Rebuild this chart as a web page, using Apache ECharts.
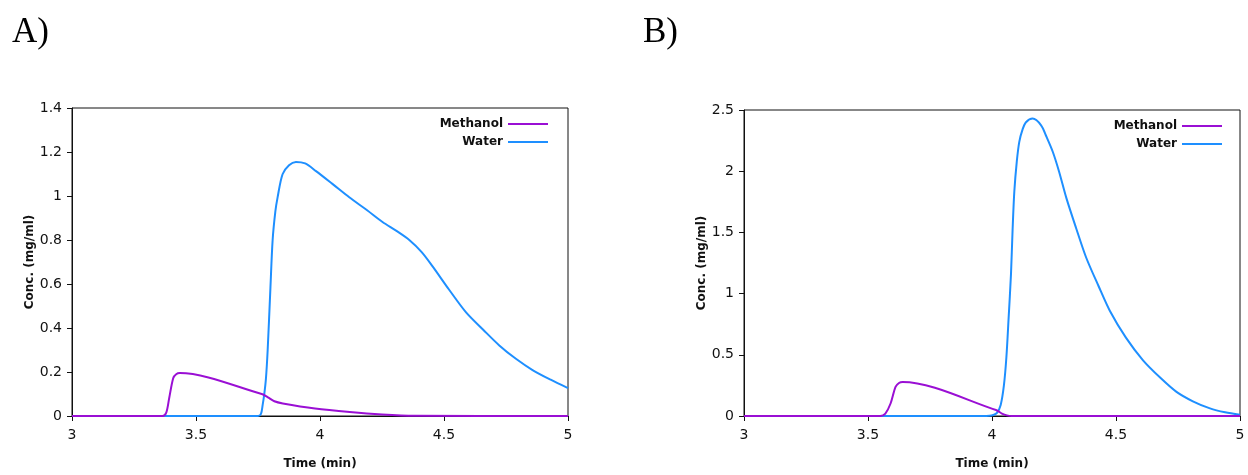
<!DOCTYPE html>
<html>
<head>
<meta charset="utf-8">
<script src="https://cdn.jsdelivr.net/npm/echarts@6/dist/echarts.min.js"></script>
<style>
  html, body { margin: 0; padding: 0; background: #fff; }
  #chart { width: 1248px; height: 475px; }
</style>
</head>
<body>
<div id="chart"></div>
<script>
// ---------- Data ----------
const panelTitles = ['A)', 'B)'];
const seriesNames = ['Methanol', 'Water'];
const xTicks = [3, 3.5, 4, 4.5, 5];
const yTicksA = [0, 0.2, 0.4, 0.6, 0.8, 1, 1.2, 1.4];
const yTicksB = [0, 0.5, 1, 1.5, 2, 2.5];

// Panel A
const timeA_methanol = [3.0, 3.365, 3.38, 3.392, 3.408, 3.42, 3.435, 3.765, 3.79, 3.816, 3.85, 3.98, 4.12, 4.25, 4.38, 5.0];
const concA_methanol = [0, 0, 0.015, 0.082, 0.172, 0.19, 0.195, 0.100, 0.085, 0.067, 0.057, 0.034, 0.018, 0.007, 0.001, 0];
const timeA_water = [3.0, 3.75, 3.762, 3.769, 3.775, 3.782, 3.789, 3.80, 3.809, 3.82, 3.829, 3.849, 3.875, 3.903, 3.94, 3.984, 4.05, 4.118, 4.19, 4.252, 4.31, 4.36, 4.41, 4.454, 4.52, 4.589, 4.66, 4.723, 4.79, 4.857, 4.93, 5.0];
const concA_water = [0, 0, 0.01, 0.052, 0.097, 0.17, 0.30, 0.58, 0.80, 0.93, 0.994, 1.099, 1.14, 1.155, 1.148, 1.113, 1.055, 0.994, 0.935, 0.882, 0.84, 0.80, 0.745, 0.68, 0.575, 0.471, 0.39, 0.321, 0.26, 0.209, 0.165, 0.127];

// Panel B
const timeB_methanol = [3.0, 3.55, 3.57, 3.591, 3.611, 3.625, 3.64, 4.016, 4.04, 4.06, 4.08, 5.0];
const concB_methanol = [0, 0, 0.02, 0.102, 0.238, 0.27, 0.278, 0.049, 0.02, 0.005, 0, 0];
const timeB_water = [3.0, 3.96, 3.99, 4.005, 4.02, 4.035, 4.048, 4.058, 4.067, 4.0765, 4.083, 4.09, 4.10, 4.11, 4.123, 4.137, 4.164, 4.198, 4.22, 4.245, 4.27, 4.30, 4.34, 4.38, 4.43, 4.475, 4.54, 4.609, 4.68, 4.744, 4.81, 4.879, 4.94, 5.0];
const concB_water = [0, 0, 0.002, 0.008, 0.025, 0.09, 0.25, 0.48, 0.80, 1.157, 1.52, 1.834, 2.08, 2.24, 2.34, 2.40, 2.43, 2.375, 2.28, 2.159, 2.0, 1.78, 1.53, 1.293, 1.06, 0.86, 0.64, 0.455, 0.31, 0.197, 0.12, 0.062, 0.03, 0.01];

const colors = { Methanol: '#9a0fd4', Water: '#1e8fff' };

// ---------- Build ----------
const zip = (xs, ys) => xs.map((x, i) => [x, ys[i]]);
const tickFont = { fontFamily: 'DejaVu Sans', fontSize: 14, color: '#111' };
const nameFont = { fontFamily: 'DejaVu Sans', fontSize: 12, fontWeight: 'bold', color: '#111' };
const axisLine = { show: true, lineStyle: { color: '#111', width: 1 } };

function xAxisFor(gi) {
  return {
    type: 'value', gridIndex: gi,
    min: xTicks[0], max: xTicks[xTicks.length - 1], interval: xTicks[1] - xTicks[0],
    name: 'Time (min)', nameLocation: 'middle', nameGap: 42, nameTextStyle: nameFont,
    axisLine: axisLine, axisTick: { show: true, length: 5, lineStyle: { color: '#111' } },
    axisLabel: Object.assign({ margin: 12 }, tickFont),
    splitLine: { show: false }
  };
}
function yAxisFor(gi, ticks) {
  return {
    type: 'value', gridIndex: gi,
    min: ticks[0], max: ticks[ticks.length - 1], interval: ticks[1] - ticks[0],
    name: 'Conc. (mg/ml)', nameLocation: 'middle', nameGap: 36, nameTextStyle: nameFont,
    axisLine: axisLine, axisTick: { show: true, length: 5, lineStyle: { color: '#111' } },
    axisLabel: Object.assign({ margin: 10 }, tickFont),
    splitLine: { show: false }
  };
}
function lineSeries(name, gi, data) {
  return {
    type: 'line', name: name, xAxisIndex: gi, yAxisIndex: gi,
    data: data, showSymbol: false, symbol: 'none',
    smooth: 0.3,
    lineStyle: { color: colors[name], width: 2 },
    itemStyle: { color: colors[name] },
    z: name === 'Water' ? 2 : 3
  };
}
function legendFor(right, top) {
  return {
    data: seriesNames, orient: 'vertical', align: 'right',
    right: right, top: top, itemWidth: 40, itemHeight: 2, itemGap: 6,
    icon: 'rect', selectedMode: false,
    textStyle: { fontFamily: 'DejaVu Sans', fontSize: 12, fontWeight: 'bold', color: '#111' }
  };
}

const option = {
  backgroundColor: '#fff',
  animation: false,
  graphic: [
    { type: 'text', left: 12, top: 15, style: { text: panelTitles[0], font: '35px "Liberation Serif"', fill: '#000' } },
    { type: 'text', left: 643, top: 15, style: { text: panelTitles[1], font: '35px "Liberation Serif"', fill: '#000' } }
  ],
  grid: [
    { left: 72, right: 680, top: 108, bottom: 56, show: true, borderColor: '#111', borderWidth: 1, backgroundColor: 'transparent' },
    { left: 744, right: 8, top: 110, bottom: 56, show: true, borderColor: '#111', borderWidth: 1, backgroundColor: 'transparent' }
  ],
  legend: [legendFor(695, 113), legendFor(21, 115)],
  xAxis: [xAxisFor(0), xAxisFor(1)],
  yAxis: [yAxisFor(0, yTicksA), yAxisFor(1, yTicksB)],
  series: [
    lineSeries('Methanol', 0, zip(timeA_methanol, concA_methanol)),
    lineSeries('Water', 0, zip(timeA_water, concA_water)),
    lineSeries('Methanol', 1, zip(timeB_methanol, concB_methanol)),
    lineSeries('Water', 1, zip(timeB_water, concB_water))
  ]
};

const chart = echarts.init(document.getElementById('chart'), null, { renderer: 'canvas' });
chart.setOption(option);
</script>
</body>
</html>
